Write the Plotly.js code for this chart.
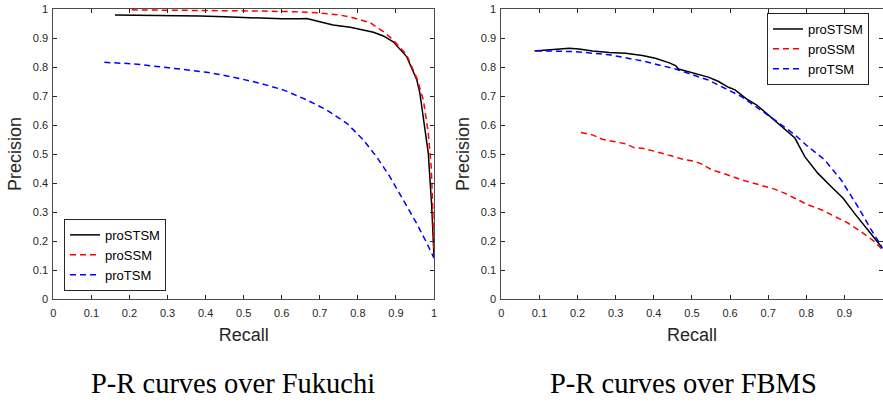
<!DOCTYPE html>
<html>
<head>
<meta charset="utf-8">
<script src="https://cdn.plot.ly/plotly-3.0.1.min.js"></script>
<style>html,body{margin:0;padding:0;background:#fff;}#chart{width:883px;height:402px;}</style>
</head>
<body>
<div id="chart"></div>
<script>
// ---- Data: Fukuchi (left) ----
const fukRecallSTSM = [0.162,0.25,0.385,0.45,0.517,0.56,0.60,0.648,0.666,0.70,0.735,0.78,0.823,0.841,0.867,0.893,0.928,0.955,0.963,0.976,0.985,0.994,1.0];
const fukPrecSTSM   = [0.979,0.978,0.976,0.973,0.970,0.967,0.966,0.966,0.967,0.956,0.945,0.937,0.925,0.920,0.907,0.887,0.836,0.755,0.709,0.595,0.503,0.32,0.147];
const fukRecallSSM  = [0.206,0.30,0.40,0.473,0.55,0.648,0.692,0.753,0.779,0.832,0.867,0.893,0.928,0.955,0.972,0.985,0.993,0.997,1.0];
const fukPrecSSM    = [0.997,0.996,0.995,0.995,0.993,0.990,0.987,0.979,0.973,0.953,0.922,0.893,0.842,0.761,0.687,0.572,0.45,0.30,0.158];
const fukRecallTSM  = [0.134,0.21,0.298,0.403,0.473,0.543,0.604,0.665,0.718,0.771,0.814,0.849,0.884,0.919,0.954,0.981,1.0];
const fukPrecTSM    = [0.816,0.811,0.798,0.782,0.765,0.744,0.721,0.687,0.652,0.606,0.549,0.491,0.422,0.342,0.262,0.193,0.141];

// ---- Data: FBMS (right) ----
const fbmsRecallSTSM = [0.087,0.135,0.178,0.204,0.239,0.283,0.326,0.37,0.404,0.439,0.457,0.465,0.5,0.543,0.57,0.596,0.613,0.643,0.67,0.70,0.735,0.77,0.796,0.83,0.865,0.896,0.926,0.961,0.996,1.0];
const fbmsPrecSTSM   = [0.855,0.861,0.865,0.862,0.855,0.850,0.847,0.840,0.830,0.815,0.805,0.793,0.781,0.765,0.750,0.730,0.721,0.690,0.669,0.635,0.595,0.555,0.491,0.434,0.388,0.348,0.296,0.239,0.181,0.175];
const fbmsRecallSSM  = [0.209,0.239,0.265,0.30,0.326,0.348,0.37,0.404,0.439,0.474,0.509,0.526,0.552,0.587,0.63,0.674,0.717,0.743,0.77,0.804,0.839,0.874,0.909,0.943,0.978,1.0];
const fbmsPrecSSM    = [0.574,0.566,0.551,0.543,0.535,0.522,0.520,0.509,0.497,0.483,0.474,0.465,0.445,0.431,0.411,0.394,0.379,0.365,0.348,0.325,0.308,0.285,0.262,0.233,0.199,0.170];
const fbmsRecallTSM  = [0.091,0.196,0.283,0.37,0.457,0.543,0.63,0.717,0.77,0.804,0.848,0.891,0.935,0.97,1.0];
const fbmsPrecTSM    = [0.856,0.853,0.842,0.821,0.793,0.755,0.698,0.618,0.566,0.526,0.480,0.411,0.319,0.239,0.176];

const seriesNames = ["proSTSM","proSSM","proTSM"];
const tickVals = [0,0.1,0.2,0.3,0.4,0.5,0.6,0.7,0.8,0.9,1];
const tickText = ["0","0.1","0.2","0.3","0.4","0.5","0.6","0.7","0.8","0.9","1"];
const captions = ["P-R curves over Fukuchi","P-R curves over FBMS"];

const styles = [
  {color:"#000000", width:1.5, dash:"solid"},
  {color:"#ff0000", width:1.5, dash:"6px,4px"},
  {color:"#0000ff", width:1.5, dash:"6px,4px"}
];

const left = [[fukRecallSTSM,fukPrecSTSM],[fukRecallSSM,fukPrecSSM],[fukRecallTSM,fukPrecTSM]];
const right = [[fbmsRecallSTSM,fbmsPrecSTSM],[fbmsRecallSSM,fbmsPrecSSM],[fbmsRecallTSM,fbmsPrecTSM]];

const traces = [];
left.forEach((d,i)=>traces.push({x:d[0],y:d[1],type:"scatter",mode:"lines",name:seriesNames[i],
  line:styles[i],xaxis:"x",yaxis:"y",legend:"legend"}));
right.forEach((d,i)=>traces.push({x:d[0],y:d[1],type:"scatter",mode:"lines",name:seriesNames[i],
  line:styles[i],xaxis:"x2",yaxis:"y2",legend:"legend2"}));

const FONT = "Liberation Sans, Arial, Helvetica, sans-serif";
const axisCommon = {
  range:[0,1], tickvals:tickVals, ticktext:tickText, ticks:"inside", ticklen:4, tickwidth:1,
  tickcolor:"#262626", showline:true, linecolor:"#4a4a4a", linewidth:1, mirror:"ticks",
  showgrid:false, zeroline:false, tickfont:{family:FONT,size:11,color:"#262626"}, fixedrange:true
};
const xAxisExtra = {ticklabelstandoff:4};
const yAxisExtra = {ticklabelstandoff:2};
const xTitle = {text:"Recall", font:{family:FONT,size:18,color:"#262626"}, standoff:10};
const yTitle = {text:"Precision", font:{family:FONT,size:18,color:"#262626"}, standoff:6};

const legendCommon = {bgcolor:"#ffffff", bordercolor:"#262626", borderwidth:1,
  font:{family:FONT,size:13,color:"#000000"}, itemwidth:30, xanchor:"left", yanchor:"middle",
  tracegroupgap:0};

const layout = {
  width:883, height:402, margin:{l:0,r:0,t:9,b:103}, paper_bgcolor:"#fff", plot_bgcolor:"#fff",
  showlegend:true,
  xaxis:Object.assign({}, axisCommon, xAxisExtra, {domain:[0.0604,0.4915], anchor:"y", title:xTitle}),
  yaxis:Object.assign({}, axisCommon, yAxisExtra, {domain:[0,1], anchor:"x", title:yTitle}),
  xaxis2:Object.assign({}, axisCommon, xAxisExtra, {domain:[0.5677,0.9995], anchor:"y2", title:xTitle}),
  yaxis2:Object.assign({}, axisCommon, yAxisExtra, {domain:[0,1], anchor:"x2", title:yTitle}),
  legend:Object.assign({}, legendCommon, {x:0.0725, y:0.152}),
  legend2:Object.assign({}, legendCommon, {x:0.8686, y:0.862}),
  annotations:[
    {text:captions[0], xref:"paper", yref:"paper", x:0.2643, y:-0.290, xanchor:"center", yanchor:"middle",
     showarrow:false, font:{family:"Liberation Serif, Times New Roman, serif", size:28.5, color:"#000"}},
    {text:captions[1], xref:"paper", yref:"paper", x:0.7738, y:-0.290, xanchor:"center", yanchor:"middle",
     showarrow:false, font:{family:"Liberation Serif, Times New Roman, serif", size:28.5, color:"#000"}}
  ]
};

Plotly.newPlot("chart", traces, layout, {displayModeBar:false, staticPlot:true});
</script>
</body>
</html>
